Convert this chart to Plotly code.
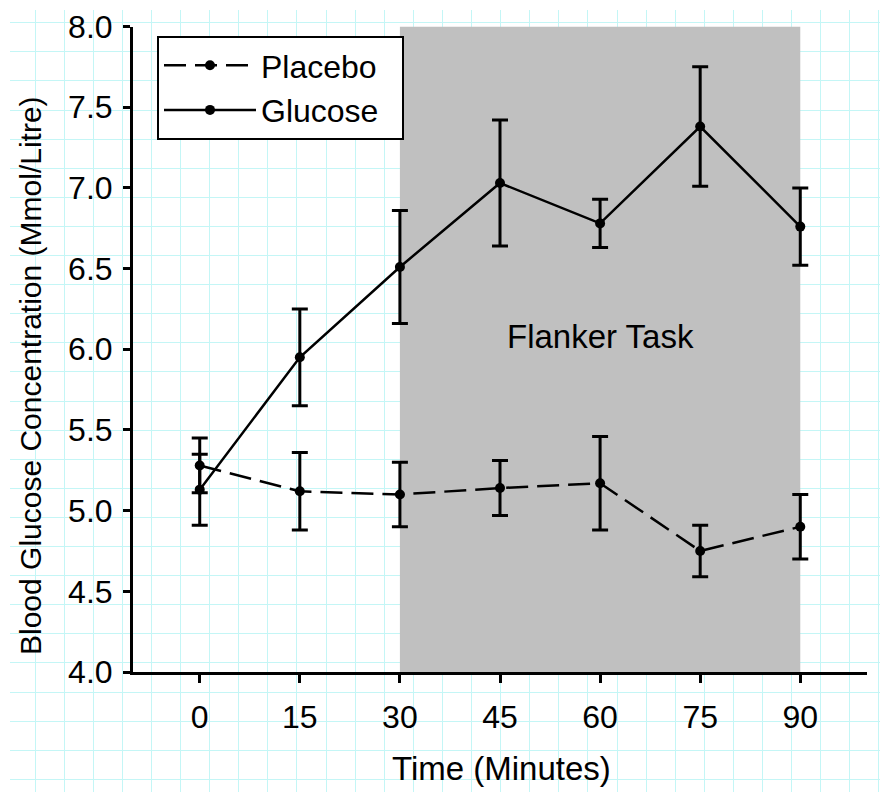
#!/usr/bin/env python3

import plotly.graph_objects as go

# blood glucose over time, mean and error
times = [0, 15, 30, 45, 60, 75, 90]
placebo_mean = [5.28, 5.12, 5.10, 5.14, 5.17, 4.75, 4.90]
placebo_err = [0.17, 0.24, 0.20, 0.17, 0.29, 0.16, 0.20]
glucose_mean = [5.13, 5.95, 6.51, 7.03, 6.78, 7.38, 6.76]
glucose_err = [0.22, 0.30, 0.35, 0.39, 0.15, 0.37, 0.24]

task_start, task_end = 30, 90
task_label = 'Flanker Task'

# page body has an 8px margin, so the figure is shrunk by that much
OFF = 8
W, H = 892 - OFF, 804 - OFF
FONT = 'Arial, Liberation Sans, sans-serif'
GRID = '#c4f6f6'


def px_x(p):
    return (p - OFF) / W


def px_y(p):
    return 1 - (p - OFF) / H


fig = go.Figure()

# empty trace so the graph-paper axes get drawn
fig.add_trace(go.Scatter(x=[], y=[], xaxis='x', yaxis='y',
                         showlegend=False, hoverinfo='skip'))

fig.add_trace(go.Scatter(
    x=times, y=placebo_mean, name='Placebo\u00a0\u00a0', xaxis='x2', yaxis='y2',
    mode='lines+markers',
    line=dict(color='black', width=2.5, dash='22px,9px'),
    marker=dict(color='black', size=10),
    error_y=dict(type='data', array=placebo_err, color='black', thickness=3, width=8)))

fig.add_trace(go.Scatter(
    x=times, y=glucose_mean, name='Glucose\u00a0\u00a0', xaxis='x2', yaxis='y2',
    mode='lines+markers',
    line=dict(color='black', width=2.5),
    marker=dict(color='black', size=10),
    error_y=dict(type='data', array=glucose_err, color='black', thickness=3, width=8)))

fig.add_shape(type='rect', xref='x2', yref='y2', x0=task_start, x1=task_end, y0=4, y1=8,
              fillcolor='#c0c0c0', line=dict(width=0), layer='below')

fig.add_annotation(x=60, y=6.08, xref='x2', yref='y2', text=task_label, showarrow=False,
                   xanchor='center', yanchor='middle',
                   font=dict(family=FONT, size=33, color='black'))

# axis titles
fig.add_annotation(x=px_x(501), y=px_y(768), xref='paper', yref='paper',
                   text='Time (Minutes)', showarrow=False, xanchor='center', yanchor='middle',
                   font=dict(family=FONT, size=33, color='black'))
fig.add_annotation(x=px_x(30), y=px_y(376), xref='paper', yref='paper',
                   text='Blood Glucose Concentration (Mmol/Litre)', showarrow=False,
                   xanchor='center', yanchor='middle',
                   textangle=-90, font=dict(family=FONT, size=30, color='black'))

fig.update_layout(
    width=W, height=H, autosize=False,
    margin=dict(l=0, r=0, t=0, b=0),
    paper_bgcolor='white', plot_bgcolor='rgba(0,0,0,0)',
    font=dict(family=FONT, size=32, color='black'),
    xaxis=dict(domain=[px_x(10), px_x(880)], range=[10, 880], tick0=35, dtick=29.1,
               showgrid=True, gridcolor=GRID, gridwidth=1.2, showticklabels=False,
               zeroline=False, showline=False, ticks='', automargin=False),
    yaxis=dict(domain=[px_y(792), px_y(10)], range=[792, 10], tick0=22.7, dtick=29.1,
               showgrid=True, gridcolor=GRID, gridwidth=1.2, showticklabels=False,
               zeroline=False, showline=False, ticks='', automargin=False),
    xaxis2=dict(domain=[px_x(133), px_x(867)], range=[-10, 100], anchor='y2',
                tickvals=times, ticks='outside', ticklen=8, tickwidth=2.5, tickcolor='black',
                showline=True, linecolor='black', linewidth=3, showgrid=False, zeroline=False,
                tickfont=dict(family=FONT, size=32), ticklabelstandoff=7, automargin=False),
    yaxis2=dict(domain=[px_y(672), px_y(26.5)], range=[4, 8], anchor='x2',
                dtick=0.5, tick0=4, tickformat='.1f', ticks='outside', ticklen=7,
                tickwidth=2.5, tickcolor='black', showline=True, linecolor='black',
                linewidth=3, showgrid=False, zeroline=False,
                tickfont=dict(family=FONT, size=32), ticklabelstandoff=4, automargin=False),
    legend=dict(x=px_x(157), y=px_y(36), xanchor='left', yanchor='top',
                bgcolor='white', bordercolor='black', borderwidth=2,
                font=dict(family=FONT, size=32), itemwidth=92),
    showlegend=True,
)

fig.write_html('out.html')
